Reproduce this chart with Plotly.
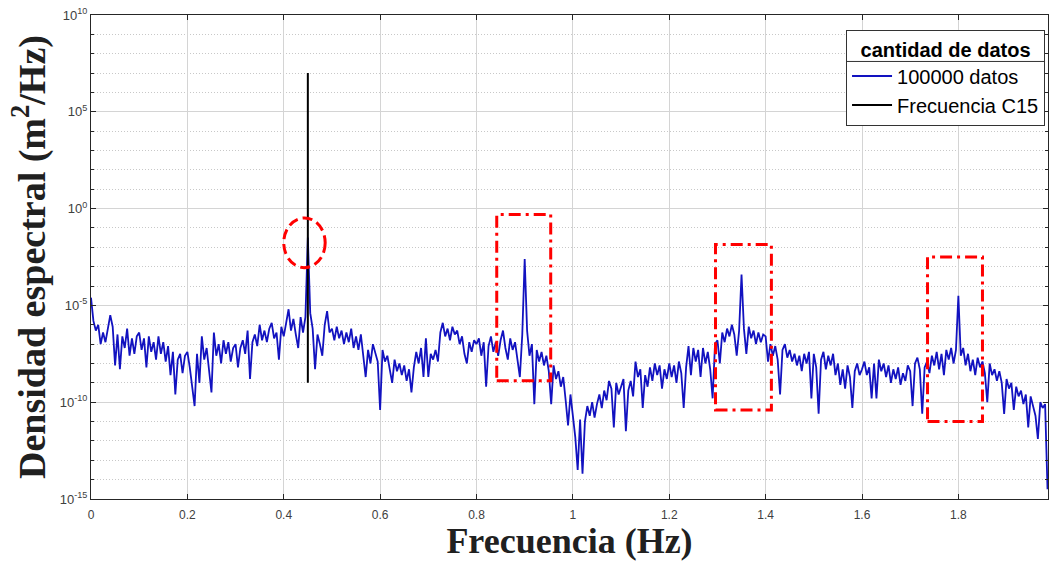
import plotly.graph_objects as go

# ---------------- data ----------------
freq_step = 0.005  # Hz, sampling of the plotted spectrum

# log10 of the spectral density, one value every 0.005 Hz from 0 to 1.985 Hz
psd_log10 = [
    # 0.000 - 0.095
    -4.6, -5.8, -6.3, -6.0, -7.0, -6.4, -6.9, -6.2, -5.5, -6.1, -8.1, -6.5, -8.3, -6.6, -7.2, -6.2, -7.6, -6.7, -7.5, -6.6,
    # 0.100 - 0.195
    -6.4, -7.3, -6.7, -8.2, -6.6, -7.4, -6.9, -7.8, -6.6, -7.5, -6.9, -7.9, -7.1, -8.6, -7.4, -9.6, -7.8, -7.5, -8.5, -7.6,
    # 0.200 - 0.295
    -7.4, -8.2, -9.2, -10.2, -7.5, -9.0, -6.6, -7.8, -7.2, -8.3, -9.5, -6.4, -7.6, -7.0, -8.0, -6.8, -7.5, -6.9, -7.9, -7.2,
    # 0.300 - 0.395
    -7.0, -8.2, -7.2, -6.8, -7.5, -6.3, -8.8, -6.9, -6.5, -7.1, -6.0, -6.8, -6.3, -6.9, -6.2, -5.9, -6.7, -6.4, -7.8, -6.1,
    # 0.400 - 0.495
    -6.6, -5.9, -5.2, -6.3, -5.7, -6.5, -7.2, -5.6, -6.4, -5.6, -1.5, -5.4, -6.2, -8.3, -6.5, -7.0, -7.6, -6.0, -5.3, -6.4,
    # 0.500 - 0.595
    -6.2, -6.8, -6.1, -6.7, -6.3, -7.0, -6.4, -6.9, -6.2, -7.2, -6.6, -7.3, -6.5, -7.6, -8.7, -7.3, -8.0, -7.0, -7.4, -7.9,
    # 0.600 - 0.695
    -10.4, -7.3, -7.9, -7.6, -8.3, -9.0, -7.8, -8.4, -8.0, -8.6, -8.1, -8.9, -8.3, -9.5, -8.2, -7.4, -8.0, -7.2, -8.7, -6.7,
    # 0.700 - 0.795
    -8.7, -7.5, -7.8, -7.3, -7.9, -6.4, -5.9, -6.6, -6.2, -6.8, -6.1, -6.5, -6.3, -7.0, -6.6, -7.5, -8.0, -6.9, -7.4, -6.8,
    # 0.800 - 0.895
    -7.0, -6.7, -7.6, -6.9, -9.2, -7.1, -6.6, -7.4, -6.9, -7.6, -6.8, -6.3, -7.2, -7.8, -6.7, -7.3, -6.9, -7.7, -8.7, -6.5,
    # 0.900 - 0.995
    -2.6, -6.3, -7.6, -7.0, -10.1, -7.3, -7.9, -7.4, -8.1, -7.6, -8.4, -10.1, -8.1, -8.8, -8.4, -9.2, -8.7, -9.9, -11.2, -9.6,
    # 1.000 - 1.095
    -10.6, -11.8, -13.5, -10.9, -13.7, -11.0, -10.2, -10.7, -10.0, -10.8, -10.1, -9.6, -10.3, -9.4, -9.9, -8.9, -9.3, -11.3, -9.0, -9.6,
    # 1.100 - 1.195
    -9.2, -8.8, -11.5, -9.4, -8.9, -9.7, -7.9, -8.7, -8.3, -10.3, -8.6, -9.2, -8.2, -8.9, -8.0, -8.6, -8.1, -9.3, -8.3, -8.8,
    # 1.200 - 1.295
    -8.0, -8.7, -8.1, -9.0, -7.9, -8.5, -10.3, -8.2, -7.1, -8.6, -7.2, -7.9, -7.3, -8.7, -7.2, -8.0, -7.4, -8.3, -9.8, -7.0,
    # 1.300 - 1.395
    -6.8, -8.0, -6.4, -6.9, -6.2, -6.6, -6.0, -6.5, -7.6, -6.3, -3.4, -6.2, -7.5, -6.1, -6.7, -6.3, -7.0, -6.4, -6.9, -6.5,
    # 1.400 - 1.495
    -6.6, -7.9, -7.0, -7.6, -7.1, -7.8, -9.6, -7.3, -7.0, -7.7, -7.3, -7.9, -7.5, -8.1, -7.6, -8.4, -7.5, -8.0, -7.4, -9.8,
    # 1.500 - 1.595
    -7.5, -8.2, -10.6, -7.8, -7.4, -8.3, -7.6, -8.1, -7.5, -8.6, -8.0, -9.1, -8.3, -9.3, -8.1, -8.7, -10.3, -8.4, -8.0, -8.6,
    # 1.600 - 1.695
    -8.3, -7.9, -8.6, -8.2, -9.8, -8.0, -9.8, -7.8, -8.4, -8.0, -8.7, -8.1, -9.0, -8.3, -8.8, -8.2, -9.1, -8.5, -8.9, -8.1,
    # 1.700 - 1.795
    -8.4, -10.2, -8.0, -7.7, -8.3, -10.6, -8.2, -7.9, -8.5, -7.6, -8.1, -7.4, -8.3, -7.5, -8.6, -7.3, -7.8, -7.2, -8.0, -7.3,
    # 1.800 - 1.985
    -4.5, -7.6, -7.2, -8.1, -7.5, -8.4, -7.8, -8.6, -7.7, -8.2, -7.9, -8.5, -10.0, -8.0, -8.6, -8.3, -8.9, -8.4, -9.0, -10.6,
    -8.8, -9.3, -9.0, -10.4, -9.2, -9.7, -9.4, -10.1, -9.6, -11.3, -9.7, -10.2, -10.7, -11.9, -10.0, -10.3, -10.1, -14.5,
]
freq = [round(i * freq_step, 3) for i in range(len(psd_log10))]
psd = [10 ** v for v in psd_log10]

# C15 natural frequency marker
c15_freq = [0.45, 0.45]
c15_psd = [1e-9, 1e7]

series_names = ["100000 datos", "Frecuencia C15"]
legend_title = "cantidad de datos"

x_tick_vals = [0, 0.2, 0.4, 0.6, 0.8, 1.0, 1.2, 1.4, 1.6, 1.8]
x_tick_text = ["0", "0.2", "0.4", "0.6", "0.8", "1", "1.2", "1.4", "1.6", "1.8"]
y_tick_vals = [1e-15, 1e-10, 1e-5, 1e0, 1e5, 1e10]
y_tick_text = ["10<sup>-15</sup>", "10<sup>-10</sup>", "10<sup>-5</sup>",
               "10<sup>0</sup>", "10<sup>5</sup>", "10<sup>10</sup>"]
y_minor_vals = [10.0 ** k for k in range(-14, 10) if k % 5 != 0]

# highlighted harmonics (frequency span, density span)
box_freq = [(0.842, 0.954), (1.296, 1.412), (1.736, 1.850)]
box_psd = [(1.3e-9, 0.49), (4e-11, 1.4e-2), (1e-11, 3.2e-3)]
circle_freq = (0.400, 0.486)
circle_psd = (8.9e-4, 0.33)

# ---------------- figure ----------------
fig = go.Figure()
fig.add_trace(go.Scatter(x=freq, y=psd, mode="lines", name=series_names[0],
                         line=dict(color="#1212C0", width=1.8)))
fig.add_trace(go.Scatter(x=c15_freq, y=c15_psd, mode="lines", name=series_names[1],
                         line=dict(color="black", width=2)))

shapes = []
for (f0, f1), (p0, p1) in zip(box_freq, box_psd):
    shapes.append(dict(type="rect", xref="x", yref="y", x0=f0, x1=f1, y0=p0, y1=p1,
                       line=dict(color="#FF0000", width=3, dash="12px,5px,3px,5px")))
shapes.append(dict(type="circle", xref="x", yref="y",
                   x0=circle_freq[0], x1=circle_freq[1], y0=circle_psd[0], y1=circle_psd[1],
                   line=dict(color="#FF0000", width=3, dash="10px,5px")))

# separator line under the legend title (drawn as a head-less arrow so it sits above the legend)
annotations = [dict(xref="paper", yref="paper", x=0.9969, y=0.904, text="",
                    showarrow=True, arrowhead=0, arrowwidth=1, arrowcolor="#333333",
                    ax=-200, ay=0, standoff=0, startstandoff=0)]

grid_col = "#D4D4D4"
x_tick_font = dict(family="Liberation Sans, Arial", size=12, color="#404040")
y_tick_font = dict(family="Liberation Sans, Arial", size=13, color="#404040")
legend_font = dict(family="Liberation Sans, Arial", size=20, color="black")

fig.update_layout(
    width=1050, height=561,
    margin=dict(l=91, r=2, t=15, b=62),
    paper_bgcolor="white", plot_bgcolor="white",
    shapes=shapes,
    annotations=annotations,
    showlegend=True,
    legend=dict(x=0.9969, xanchor="right", y=0.97, yanchor="top",
                bgcolor="white", bordercolor="#333333", borderwidth=1,
                font=legend_font,
                title=dict(text="<b>" + legend_title + "</b>", side="top center", font=legend_font),
                itemwidth=40, tracegroupgap=0),
    xaxis=dict(range=[0, 1.986], tickvals=x_tick_vals, ticktext=x_tick_text,
               showgrid=True, gridcolor=grid_col, gridwidth=1,
               ticks="inside", ticklen=5, tickcolor="#262626",
               showline=True, linecolor="#262626", linewidth=1, mirror="ticks",
               zeroline=False, tickfont=x_tick_font, ticklabelstandoff=5,
               title=dict(text="<b>Frecuencia (Hz)</b>",
                          font=dict(family="Liberation Serif, Times New Roman", size=36, color="#202020"),
                          standoff=12)),
    yaxis=dict(type="log", range=[-15, 10], tickvals=y_tick_vals, ticktext=y_tick_text,
               showgrid=True, gridcolor=grid_col, gridwidth=1,
               ticks="inside", ticklen=5, tickcolor="#262626",
               showline=True, linecolor="#262626", linewidth=1, mirror="ticks",
               zeroline=False, tickfont=y_tick_font,
               minor=dict(tickvals=y_minor_vals, showgrid=True, gridcolor="#C8C8C8",
                          griddash="1px,2px", gridwidth=1, ticks="inside", ticklen=3,
                          tickcolor="#262626"),
               title=dict(text="<b>Densidad espectral (m<sup>2</sup>/Hz)</b>",
                          font=dict(family="Liberation Serif, Times New Roman", size=38, color="#202020"),
                          standoff=2)),
)

fig.write_html("out.html")
